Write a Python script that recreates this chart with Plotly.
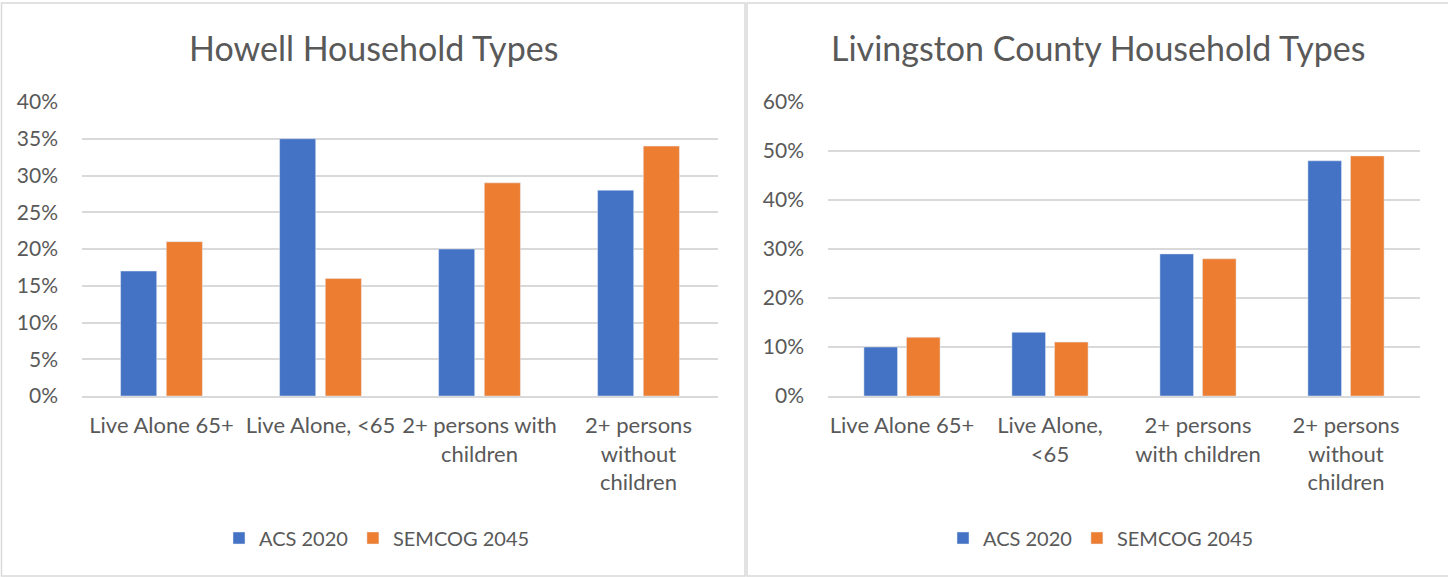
import plotly.graph_objects as go

W, H = 1448, 577

howell_categories = ["Live Alone 65+", "Live Alone, &lt;65", "2+ persons with<br>children",
                     "2+ persons<br>without<br>children"]
howell_acs_2020 = [0.17, 0.35, 0.20, 0.28]
howell_semcog_2045 = [0.21, 0.16, 0.29, 0.34]

county_categories = ["Live Alone 65+", "Live Alone,<br>&lt;65", "2+ persons<br>with children",
                     "2+ persons<br>without<br>children"]
county_acs_2020 = [0.10, 0.13, 0.29, 0.48]
county_semcog_2045 = [0.12, 0.11, 0.28, 0.49]

series_names = ["ACS 2020", "SEMCOG 2045"]
BLUE, ORANGE = "#4472C4", "#ED7D31"
TEXT = "#595959"
GRID = "#D9D9D9"
FONT = "Lato"

def px_x(x):
    return x / W

def px_y(y):
    return 1 - y / H

fig = go.Figure()

fig.add_trace(go.Bar(x=howell_categories, y=howell_acs_2020, name=series_names[0],
                     marker_color=BLUE, xaxis="x", yaxis="y", legend="legend"))
fig.add_trace(go.Bar(x=howell_categories, y=howell_semcog_2045, name=series_names[1],
                     marker_color=ORANGE, xaxis="x", yaxis="y", legend="legend"))
fig.add_trace(go.Bar(x=county_categories, y=county_acs_2020, name=series_names[0],
                     marker_color=BLUE, xaxis="x2", yaxis="y2", legend="legend2"))
fig.add_trace(go.Bar(x=county_categories, y=county_semcog_2045, name=series_names[1],
                     marker_color=ORANGE, xaxis="x2", yaxis="y2", legend="legend2"))

plot_top, plot_bottom = px_y(102), px_y(396)

xaxis_common = dict(showgrid=False, showline=True, linecolor=GRID, linewidth=1.5,
                    ticks="", tickfont=dict(size=22, color=TEXT, family=FONT),
                    ticklabelstandoff=9, fixedrange=True, tickangle=0, automargin=False)
yaxis_common = dict(showgrid=True, gridcolor=GRID, gridwidth=1.5, zeroline=False,
                    showline=False, ticks="", tickformat=".0%",
                    tickfont=dict(size=21, color=TEXT, family=FONT),
                    ticklabelstandoff=23, domain=[plot_bottom, plot_top], automargin=False)

legend_common = dict(orientation="h", xanchor="center", yanchor="middle",
                     font=dict(size=20, color=TEXT, family=FONT),
                     bgcolor="rgba(0,0,0,0)", itemwidth=30, tracegroupgap=0)

fig.update_layout(
    width=W, height=H,
    margin=dict(l=0, r=0, t=0, b=0, autoexpand=False),
    paper_bgcolor="white", plot_bgcolor="white",
    barmode="group", bargap=0.425, bargroupgap=0.21,
    font=dict(family=FONT, color=TEXT),
    xaxis=dict(domain=[px_x(82), px_x(718)], anchor="y", **xaxis_common),
    yaxis=dict(anchor="x", range=[0, 0.40], dtick=0.05, **yaxis_common),
    xaxis2=dict(domain=[px_x(828), px_x(1420)], anchor="y2", **xaxis_common),
    yaxis2=dict(anchor="x2", range=[0, 0.60], dtick=0.10, **yaxis_common),
    legend=dict(x=px_x(377), y=px_y(538), **legend_common),
    legend2=dict(x=px_x(1101), y=px_y(538), **legend_common),
    showlegend=True,
)

titles = [("Howell Household Types", 374), ("Livingston County Household Types", 1098)]
for text, cx in titles:
    fig.add_annotation(text=text, x=px_x(cx), y=px_y(48), xref="paper", yref="paper",
                       xanchor="center", yanchor="middle", showarrow=False,
                       font=dict(size=34, color=TEXT, family=FONT))

# Panel frames
for x0, x1 in [(1.5, 745), (747, 1450)]:
    fig.add_shape(type="rect", xref="paper", yref="paper",
                  x0=px_x(x0), x1=px_x(x1), y0=px_y(576), y1=px_y(3),
                  line=dict(color=GRID, width=1.5), fillcolor="rgba(0,0,0,0)", layer="below")

fig.write_html("out.html")
